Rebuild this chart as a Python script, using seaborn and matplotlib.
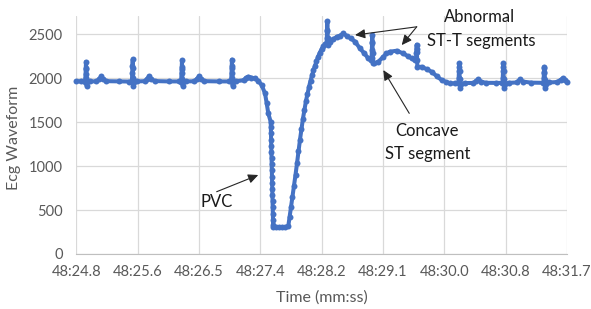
import numpy as np
import pandas as pd
import matplotlib
matplotlib.use("Agg")
import matplotlib.pyplot as plt
import seaborn as sns

# ECG samples (time in seconds after 48:00, amplitude in ADC units)
# normal beats before the PVC
t_normal = [24.800, 24.860, 24.922, 24.928, 24.931, 24.934, 24.937, 24.940, 24.943, 24.950,
            24.990, 25.080, 25.120, 25.145, 25.175, 25.220, 25.400, 25.540,
            25.579, 25.585, 25.588, 25.591, 25.594, 25.597, 25.600, 25.607,
            25.650, 25.760, 25.795, 25.820, 25.850, 25.900, 26.100, 26.240,
            26.272, 26.278, 26.281, 26.284, 26.287, 26.290, 26.293, 26.300,
            26.340, 26.460, 26.495, 26.523, 26.555, 26.600, 26.800, 26.940,
            26.975, 26.981, 26.984, 26.987, 26.990, 26.993, 26.996, 27.003,
            27.050, 27.150, 27.190, 27.217, 27.260, 27.311, 27.360]
v_normal = [1965, 1962, 1960, 2050, 2120, 2185, 2100, 2000, 1908, 1950,
            1962, 1963, 1985, 2018, 1985, 1965, 1962, 1960,
            1960, 2060, 2140, 2212, 2110, 2000, 1912, 1950,
            1962, 1965, 1990, 2022, 1988, 1966, 1962, 1962,
            1960, 2060, 2130, 2200, 2100, 1995, 1910, 1950,
            1962, 1964, 1990, 2020, 1985, 1965, 1962, 1963,
            1962, 2060, 2140, 2210, 2110, 2000, 1912, 1950,
            1965, 1975, 2005, 2016, 2005, 1996, 1965]

# premature ventricular contraction
t_pvc = [27.405, 27.452, 27.476, 27.498, 27.532,
         27.534, 27.536, 27.538, 27.540, 27.542, 27.544, 27.546, 27.548, 27.550,
         27.552, 27.554, 27.556, 27.558, 27.560, 27.562, 27.564, 27.566,
         27.568, 27.610, 27.650, 27.690, 27.730, 27.779,
         27.798, 27.817, 27.838, 27.860, 27.881, 27.902, 27.923, 27.944, 27.965,
         27.986, 28.007, 28.028, 28.049, 28.071, 28.092, 28.113, 28.134, 28.155,
         28.176, 28.197, 28.223, 28.249, 28.272, 28.296]
v_pvc = [1920, 1826, 1713, 1599, 1503,
         1440, 1370, 1300, 1230, 1160, 1090, 1020, 950, 880,
         810, 740, 670, 600, 530, 460, 390, 330,
         308, 306, 306, 306, 306, 315,
         420, 530, 650, 770, 900, 1030, 1170, 1300, 1420,
         1540, 1640, 1740, 1820, 1900, 1970, 2030, 2090, 2140,
         2190, 2240, 2290, 2330, 2360, 2390]

# beats after the PVC with abnormal ST-T segments
t_stt = [28.318, 28.322, 28.325, 28.328, 28.331, 28.334, 28.338, 28.366, 28.410, 28.460,
         28.500, 28.553, 28.600, 28.660, 28.718, 28.788, 28.850, 28.905, 28.940,
         28.952, 28.955, 28.958, 28.961, 28.964, 28.967, 28.970, 28.990, 29.045, 29.116,
         29.160, 29.210, 29.304, 29.397, 29.460, 29.515, 29.560,
         29.577, 29.580, 29.583, 29.586, 29.589, 29.592, 29.595, 29.656, 29.730, 29.797,
         29.870, 29.937, 30.000, 30.054, 30.120, 30.172,
         30.176, 30.179, 30.182, 30.185, 30.188, 30.191, 30.194, 30.203, 30.260, 30.380,
         30.420, 30.452, 30.490, 30.560, 30.700, 30.792,
         30.796, 30.799, 30.802, 30.804, 30.807, 30.810, 30.813, 30.822, 30.880, 30.990,
         31.039, 31.080, 31.200, 31.368,
         31.372, 31.375, 31.378, 31.380, 31.383, 31.386, 31.389, 31.398, 31.450, 31.560,
         31.610, 31.639, 31.670, 31.700]
v_stt = [2395, 2460, 2540, 2645, 2550, 2450, 2378, 2412, 2440, 2469,
         2480, 2507, 2480, 2450, 2415, 2337, 2280, 2223, 2200,
         2230, 2320, 2410, 2488, 2400, 2290, 2173, 2170, 2185, 2242,
         2280, 2300, 2311, 2280, 2250, 2223, 2200,
         2210, 2280, 2330, 2380, 2300, 2200, 2128, 2128, 2100, 2071,
         2020, 1977, 1955, 1940, 1940, 1942,
         2000, 2080, 2130, 2166, 2080, 1990, 1882, 1930, 1943, 1945,
         1965, 1985, 1960, 1946, 1945, 1945,
         2000, 2080, 2130, 2166, 2080, 1990, 1890, 1935, 1946, 1950,
         1985, 1960, 1948, 1946,
         2000, 2070, 2110, 2128, 2060, 1980, 1890, 1935, 1950, 1955,
         1980, 1996, 1975, 1957]

tick_labels = ["48:24.8", "48:25.6", "48:26.5", "48:27.4", "48:28.2",
               "48:29.1", "48:30.0", "48:30.8", "48:31.7"]
y_ticks = [0, 500, 1000, 1500, 2000, 2500]

df = pd.DataFrame({
    "time": t_normal + t_pvc + t_stt,
    "ecg": v_normal + v_pvc + v_stt,
})

sns.set_style("white")
plt.rcParams["font.family"] = ["Lato", "DejaVu Sans"]

fig, ax = plt.subplots(figsize=(5.91, 3.09), dpi=100)
fig.subplots_adjust(left=0.1294, right=0.9594, bottom=0.178, top=0.948)

sns.lineplot(data=df, x="time", y="ecg", ax=ax, color="#4472C4", linewidth=2.9,
             marker="o", markersize=4.3, markeredgewidth=0, estimator=None, sort=False)
ax.lines[0].set_clip_on(False)

ax.set_xlim(24.8, 31.7)
ax.set_ylim(0, 2705)
ax.set_xticks(np.linspace(24.8, 31.7, len(tick_labels)))
ax.set_xticklabels(tick_labels)
ax.set_yticks(y_ticks)
ax.grid(True, color="#D9D9D9", linewidth=0.9)
ax.set_axisbelow(True)
for side in ["top", "right", "left"]:
    ax.spines[side].set_visible(False)
ax.spines["bottom"].set_color("#BFBFBF")
ax.tick_params(length=0, labelsize=10.5, labelcolor="#595959")
ax.tick_params(axis="y", pad=10)
ax.tick_params(axis="x", pad=8)

ax.set_xlabel("Time (mm:ss)", fontsize=11.5, color="#595959", va="center")
ax.xaxis.set_label_coords(0.5, (254 - 298) / 238)
ax.set_ylabel("Ecg Waveform", fontsize=11.5, color="#595959", va="center")
ax.yaxis.set_label_coords((14 - 76.5) / 490.5, 0.489)

# annotations
arrow = dict(arrowstyle="-|>,head_length=0.6,head_width=0.28", color="#262626",
             lw=0.8, shrinkA=0, shrinkB=0, mutation_scale=10)
txt = dict(fontsize=12, color="#1a1a1a", ha="center", va="center", clip_on=False)

ax.annotate("", xy=(27.357, 898), xytext=(26.772, 708), arrowprops=arrow,
            annotation_clip=False)
ax.text(26.776, 594, "PVC", **txt)

ax.annotate("", xy=(28.718, 2489), xytext=(29.586, 2583), arrowprops=arrow,
            annotation_clip=False)
ax.annotate("", xy=(29.375, 2375), xytext=(29.586, 2583), arrowprops=arrow,
            annotation_clip=False)
ax.text(30.476, 2697, "Abnormal", **txt)
ax.text(30.49, 2424, "ST-T segments", **txt)

ax.annotate("", xy=(29.116, 2091), xytext=(29.481, 1599), arrowprops=arrow,
            annotation_clip=False)
ax.text(29.731, 1401, "Concave", **txt)
ax.text(29.738, 1136, "ST segment", **txt)

fig.savefig("out.png", dpi=100)
